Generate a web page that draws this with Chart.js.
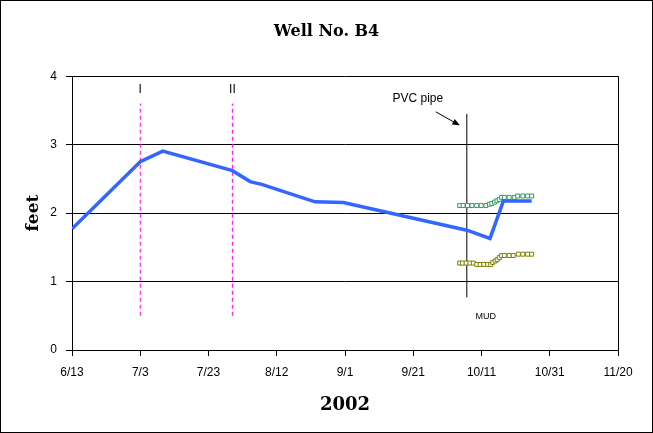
<!DOCTYPE html>
<html>
<head>
<meta charset="utf-8">
<script src="https://cdn.jsdelivr.net/npm/chart.js@4/dist/chart.umd.min.js"></script>
<style>
  html, body { margin: 0; padding: 0; background: #ffffff; }
  #wrap { width: 653px; height: 433px; position: relative; }
</style>
</head>
<body>
<div id="wrap"><canvas id="c" width="653" height="433"></canvas></div>
<script>
// ---- Data (x = days since 6/13/2002, y = feet) ----
const xTickLabels = ['6/13', '7/3', '7/23', '8/12', '9/1', '9/21', '10/11', '10/31', '11/20'];

const wellDays = [0, 20, 26.6, 47, 52.2, 55.6, 71.2, 79.5, 115.7, 122.5, 126.4, 134.7];
const wellFeet = [1.77, 2.75, 2.905, 2.62, 2.46, 2.42, 2.165, 2.155, 1.75, 1.63, 2.175, 2.175];

const greenDays = [113.6, 114.6, 115.9, 117.2, 118.6, 119.9, 121.3, 122.3, 123.0, 123.8, 124.5, 125.2, 125.9, 126.7, 128.1, 129.6, 130.6, 132.1, 133.5, 134.7];
const greenFeet = [2.11, 2.11, 2.11, 2.11, 2.11, 2.11, 2.11, 2.13, 2.14, 2.16, 2.18, 2.20, 2.23, 2.23, 2.23, 2.23, 2.25, 2.25, 2.25, 2.25];

const oliveDays = [113.6, 114.4, 115.5, 116.6, 117.6, 118.6, 119.6, 120.7, 121.8, 122.7, 123.3, 124.0, 124.6, 125.2, 125.9, 126.7, 128.1, 129.3, 130.8, 132.1, 133.5, 134.7];
const oliveFeet = [1.27, 1.27, 1.27, 1.27, 1.27, 1.25, 1.25, 1.25, 1.25, 1.25, 1.28, 1.30, 1.32, 1.35, 1.38, 1.38, 1.38, 1.38, 1.40, 1.40, 1.40, 1.40];

const phaseDays = [20, 47];          // dashed markers I and II
const phaseLabels = ['I', 'II'];
const phaseRange = [0.5, 3.6];       // feet span of dashed markers
const pvcDay = 115.7;                // PVC pipe line
const pvcRange = [0.77, 3.45];

const pts = (xs, ys) => xs.map((x, i) => ({ x: x, y: ys[i] }));
const vline = (d, r) => [{ x: d, y: r[0] }, { x: d, y: r[1] }];

const datasets = [
  { label: 'Well B4', data: pts(wellDays, wellFeet), showLine: true, borderColor: '#3366FF',
    backgroundColor: '#3366FF', borderWidth: 3.5, pointRadius: 0, tension: 0, order: 0 },
  { label: 'Sensor A', data: pts(greenDays, greenFeet), showLine: false, borderColor: '#339966',
    backgroundColor: '#ffffff', pointStyle: 'rect', pointRadius: 2.8, borderWidth: 1, order: 1 },
  { label: 'Sensor B', data: pts(oliveDays, oliveFeet), showLine: false, borderColor: '#808000',
    backgroundColor: '#ffffff', pointStyle: 'rect', pointRadius: 2.8, borderWidth: 1, order: 2 },
  { label: 'PVC', data: vline(pvcDay, pvcRange), showLine: true, borderColor: '#000000',
    borderWidth: 1, pointRadius: 0, order: 3 }
];
phaseDays.forEach((d, i) => {
  datasets.push({ label: 'Phase ' + phaseLabels[i], data: vline(d, phaseRange), showLine: true,
    borderColor: '#FF00FF', borderWidth: 1, borderDash: [4, 3], pointRadius: 0, order: 4 + i });
});

const annot = {
  id: 'annot',
  afterDraw(chart) {
    const { ctx, chartArea: a, scales: { x, y } } = chart;
    ctx.save();
    // plot-area right border
    ctx.strokeStyle = '#000';
    ctx.lineWidth = 1;
    ctx.beginPath();
    ctx.moveTo(Math.round(a.right) + 0.5, a.top);
    ctx.lineTo(Math.round(a.right) + 0.5, a.bottom);
    ctx.stroke();
    // whole chart border
    ctx.strokeRect(0.5, 0.5, chart.width - 1, chart.height - 1);

    ctx.fillStyle = '#000';
    ctx.textAlign = 'center';
    ctx.textBaseline = 'middle';
    ctx.font = '12px "Liberation Sans", Arial, sans-serif';
    phaseDays.forEach((d, i) => {
      ctx.fillText(phaseLabels[i], x.getPixelForValue(d), y.getPixelForValue(phaseRange[1]) - 14);
    });
    const px = x.getPixelForValue(pvcDay);
    const ptop = y.getPixelForValue(pvcRange[1]);
    ctx.fillText('PVC pipe', px - 49, ptop - 15);
    // arrow
    const x0 = px - 31, y0 = ptop - 2, x1 = px - 8, y1 = ptop + 11;
    ctx.beginPath();
    ctx.moveTo(x0, y0);
    ctx.lineTo(x1, y1);
    ctx.stroke();
    const ang = Math.atan2(y1 - y0, x1 - x0);
    ctx.beginPath();
    ctx.moveTo(x1 + 1, y1 + 0.5);
    ctx.lineTo(x1 - 7 * Math.cos(ang - 0.45), y1 - 7 * Math.sin(ang - 0.45));
    ctx.lineTo(x1 - 7 * Math.cos(ang + 0.45), y1 - 7 * Math.sin(ang + 0.45));
    ctx.closePath();
    ctx.fill();
    ctx.font = '9px "Liberation Sans", Arial, sans-serif';
    ctx.fillText('MUD', px + 19, y.getPixelForValue(pvcRange[0]) + 19);
    ctx.restore();
  }
};

new Chart(document.getElementById('c'), {
  type: 'scatter',
  data: { datasets: datasets },
  plugins: [annot],
  options: {
    responsive: false,
    animation: false,
    devicePixelRatio: 1,
    layout: { padding: { left: 0, right: 0, top: 0, bottom: 0 } },
    plugins: {
      legend: { display: false },
      tooltip: { enabled: false },
      title: {
        display: true,
        text: 'Well No. B4',
        color: '#000',
        font: { family: '"DejaVu Serif", serif', size: 16, weight: 'bold' },
        padding: { top: 22, bottom: 35 }
      }
    },
    scales: {
      x: {
        type: 'linear',
        min: 0, max: 160,
        afterFit: s => { s.height = 83; },
        ticks: {
          stepSize: 20,
          color: '#000',
          padding: 9,
          maxRotation: 0,
          autoSkip: false,
          font: { family: '"Liberation Sans", Arial, sans-serif', size: 12 },
          callback: v => xTickLabels[Math.round(v / 20)]
        },
        grid: { drawOnChartArea: false, drawTicks: true, tickLength: 6, color: '#000' },
        border: { display: true, color: '#000', width: 1 },
        title: {
          display: true, text: '2002', color: '#000',
          font: { family: '"DejaVu Serif", serif', size: 18, weight: 'bold' },
          padding: { top: 0, bottom: 17 }
        }
      },
      y: {
        min: 0, max: 4,
        afterFit: s => { s.width = 72; },
        ticks: {
          stepSize: 1,
          color: '#000',
          padding: 9,
          font: { family: '"Liberation Sans", Arial, sans-serif', size: 12 }
        },
        grid: { color: '#000', lineWidth: 1, drawTicks: true, tickLength: 6 },
        border: { display: true, color: '#000', width: 1 },
        title: {
          display: true, text: 'feet', color: '#000',
          font: { family: '"DejaVu Serif", serif', size: 17, weight: 'bold' },
          padding: { top: 23, bottom: 0 }
        }
      },
      spacer: {
        type: 'linear',
        position: 'right',
        display: true,
        afterFit: s => { s.width = 35; },
        ticks: { display: false },
        grid: { display: false, drawTicks: false },
        border: { display: false }
      }
    }
  }
});
</script>
</body>
</html>
